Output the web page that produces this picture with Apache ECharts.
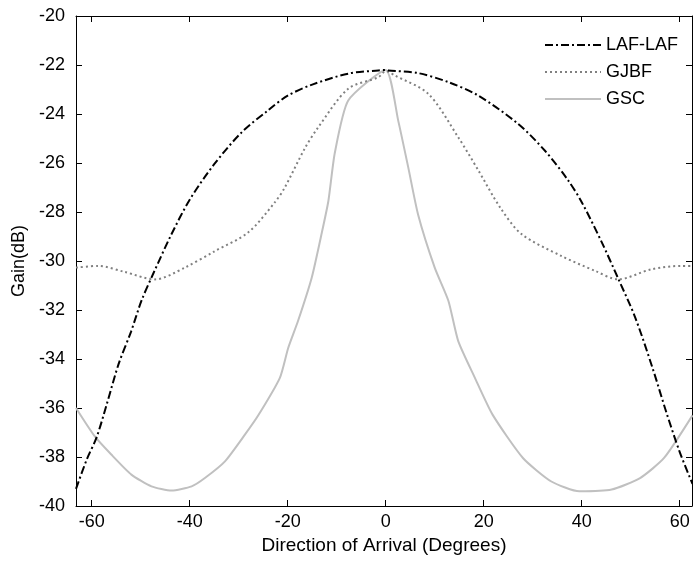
<!DOCTYPE html>
<html>
<head>
<meta charset="utf-8">
<script src="https://cdn.jsdelivr.net/npm/echarts@6/dist/echarts.min.js"></script>
<style>
html,body{margin:0;padding:0;background:#fff;}
#chart{width:694px;height:561px;}
</style>
</head>
<body>
<div id="chart"></div>
<script>
var xTicks = [-60, -40, -20, 0, 20, 40, 60];
var seriesNames = ['LAF-LAF', 'GJBF', 'GSC'];

var lafX = [-63.2, -61, -59, -57, -54.5, -52, -49.8, -47.4, -43.7, -40, -35, -29.4, -24, -20, -15, -7.6, -1.5, 0, 0.5, 6.6, 12.8, 18.9, 27, 32.5, 37.2, 40, 44, 47.4, 50.9, 54.5, 57.3, 60, 62.6];
var lafY = [-39.3, -38.1, -37.2, -35.9, -34.2, -32.9, -31.6, -30.5, -28.9, -27.5, -26.05, -24.75, -23.85, -23.25, -22.8, -22.35, -22.22, -22.2, -22.22, -22.33, -22.7, -23.25, -24.4, -25.5, -26.7, -27.6, -29.2, -30.7, -32.3, -34.4, -36.2, -37.8, -39.1];

var gjbfX = [-63.2, -58.7, -53.2, -47.1, -41, -34.9, -28.1, -22.6, -20.6, -16.5, -13.8, -7.65, -1.5, 0, 1.9, 8.7, 14.8, 18.9, 23.3, 27.7, 35.9, 42.7, 47.4, 54.2, 60.4, 62.6];
var gjbfY = [-30.27, -30.2, -30.45, -30.75, -30.27, -29.6, -28.84, -27.6, -27.0, -25.4, -24.55, -22.97, -22.5, -22.25, -22.43, -23.18, -24.95, -26.3, -27.8, -28.9, -29.8, -30.4, -30.75, -30.34, -30.2, -30.2];

var gscX = [-63.2, -59.4, -56, -51.9, -47.8, -43.7, -39.6, -36.9, -32.8, -28.7, -26, -21.6, -19.9, -17.9, -15.1, -13.1, -11.7, -10.4, -7.65, 0, 2.55, 4.6, 6.6, 10, 12.8, 14.8, 18.2, 21.8, 28, 33.8, 39.5, 46.1, 51.9, 56.8, 62.6];
var gscY = [-36.0, -37.15, -37.9, -38.72, -39.2, -39.37, -39.2, -38.86, -38.18, -37.08, -36.3, -34.77, -33.55, -32.45, -30.68, -28.9, -27.55, -25.6, -23.45, -22.2, -24.27, -26.18, -28.1, -30.27, -31.63, -33.27, -34.77, -36.27, -38.04, -39.0, -39.4, -39.33, -38.86, -38.04, -36.3];

function pairs(xs, ys) { return xs.map(function (x, i) { return [x, ys[i]]; }); }

var FONT = 'Liberation Sans, Arial, sans-serif';
var xMin = -63.2, xMax = 62.5;

var chart = echarts.init(document.getElementById('chart'), null, { renderer: 'canvas' });
var axisLineStyle = { show: true, onZero: false, lineStyle: { color: '#000', width: 1 } };
chart.setOption({
  animation: false,
  backgroundColor: '#fff',
  grid: { left: 76, right: 2, top: 16, bottom: 55, containLabel: false },
  legend: {
    data: seriesNames,
    orient: 'vertical',
    left: 539,
    top: 30,
    itemWidth: 56,
    itemHeight: 14,
    itemGap: 7,
    itemStyle: { opacity: 0, borderWidth: 0 },
    textStyle: { fontFamily: FONT, fontSize: 18, color: '#000', lineHeight: 20, padding: [0, 0, 0, 0] }
  },
  xAxis: [
    {
      type: 'value', min: xMin, max: xMax, position: 'bottom',
      name: 'Direction of Arrival (Degrees)', nameLocation: 'middle', nameGap: 27,
      nameTextStyle: { fontFamily: FONT, fontSize: 19, color: '#000' },
      axisLine: axisLineStyle,
      axisTick: { show: true, inside: true, length: 6, lineStyle: { color: '#000' }, customValues: xTicks },
      axisLabel: { show: true, margin: 7, fontFamily: FONT, fontSize: 18, color: '#000', customValues: xTicks },
      splitLine: { show: false }
    },
    {
      type: 'value', min: xMin, max: xMax, position: 'top',
      axisLine: axisLineStyle,
      axisTick: { show: true, inside: true, length: 6, lineStyle: { color: '#000' }, customValues: xTicks },
      axisLabel: { show: false },
      splitLine: { show: false }
    }
  ],
  yAxis: [
    {
      type: 'value', min: -40, max: -20, interval: 2, position: 'left',
      name: 'Gain(dB)', nameLocation: 'middle', nameGap: 45, nameRotate: 90,
      nameTextStyle: { fontFamily: FONT, fontSize: 18, color: '#000' },
      axisLine: axisLineStyle,
      axisTick: { show: true, inside: true, length: 6, lineStyle: { color: '#000' } },
      axisLabel: { show: true, margin: 11, fontFamily: FONT, fontSize: 18, color: '#000' },
      splitLine: { show: false }
    },
    {
      type: 'value', min: -40, max: -20, interval: 2, position: 'right',
      axisLine: axisLineStyle,
      axisTick: { show: true, inside: true, length: 6, lineStyle: { color: '#000' } },
      axisLabel: { show: false },
      splitLine: { show: false }
    }
  ],
  series: [
    {
      name: seriesNames[0], type: 'line', xAxisIndex: 0, yAxisIndex: 0,
      data: pairs(lafX, lafY), showSymbol: false, symbol: 'none', smooth: 0.3,
      lineStyle: { color: '#000', width: 2, type: [8, 3, 2, 3] },
      itemStyle: { color: '#000' }, z: 4
    },
    {
      name: seriesNames[1], type: 'line', xAxisIndex: 0, yAxisIndex: 0,
      data: pairs(gjbfX, gjbfY), showSymbol: false, symbol: 'none', smooth: 0.3,
      lineStyle: { color: '#808080', width: 2, type: [2, 3] },
      itemStyle: { color: '#808080' }, z: 3
    },
    {
      name: seriesNames[2], type: 'line', xAxisIndex: 0, yAxisIndex: 0,
      data: pairs(gscX, gscY), showSymbol: false, symbol: 'none', smooth: 0.2,
      lineStyle: { color: '#c0c0c0', width: 2, type: 'solid' },
      itemStyle: { color: '#c0c0c0' }, z: 2
    }
  ]
});
</script>
</body>
</html>
